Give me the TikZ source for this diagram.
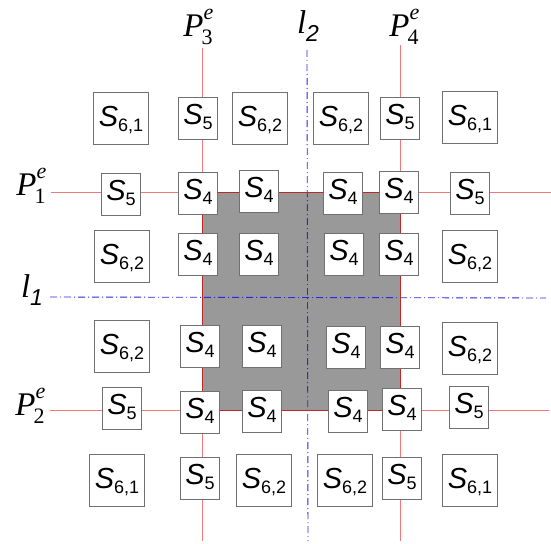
\documentclass[tikz,border=0pt]{standalone}
\usepackage{fontspec}
\setmainfont{Liberation Sans}
\newfontfamily\lblserif{Liberation Serif}
\usepackage{tikz}
\usetikzlibrary{positioning}
\definecolor{PlotRed}{HTML}{F07878}
\definecolor{EdgeRed}{HTML}{C02828}
\definecolor{AxisBlue}{HTML}{2828E6}
\definecolor{BoxGray}{HTML}{707070}
\definecolor{CoreGray}{HTML}{999999}
\newcommand{\Sreg}[1]{\fontsize{29}{29}\selectfont\textit{S}\raisebox{-5pt}{\fontsize{18}{18}\selectfont #1}}
\newcommand{\Pext}[1]{{\lblserif\fontsize{33}{33}\selectfont\textit{P}\rlap{\raisebox{17pt}{\fontsize{22}{22}\selectfont\textit{e}}}\kern-2pt\raisebox{-8pt}{\fontsize{22}{22}\selectfont #1}}}
\newcommand{\laxis}[1]{{\lblserif\fontsize{33}{33}\selectfont\textit{l}}\raisebox{-8pt}{\fontsize{23}{23}\selectfont\textit{#1}}}
\tikzset{
  small/.style={draw=BoxGray,fill=white,line width=0.8pt,inner sep=0pt,
    minimum width=39pt,minimum height=42pt,text height=20pt,text depth=7pt},
  big/.style={draw=BoxGray,fill=white,line width=0.8pt,inner sep=0pt,
    minimum width=55pt,minimum height=52pt,text height=22pt,text depth=5pt},
  ext/.style={draw=PlotRed,line width=0.9pt},
  axis/.style={draw=AxisBlue,line width=0.9pt,dash pattern=on 7pt off 3pt on 1pt off 3pt},
  lbl/.style={inner sep=0pt}
}

\begin{document}
\begin{tikzpicture}[x=1pt,y=-1pt]
  \useasboundingbox (0,0) rectangle (551,543);
  % labels
  \node[lbl] (P3) at (198,27) {\Pext{3}};
  \node[lbl] (P4) at (404,27) {\Pext{4}};
  \node[lbl] (P1) at (31,186) {\Pext{1}};
  \node[lbl] (P2) at (30,406) {\Pext{2}};
  \node[lbl] (l2) at (308,26) {\laxis{2}};
  \node[lbl] (l1) at (32,290) {\laxis{1}};
  % line ends
  \coordinate (p3a) at (202,48);  \coordinate (p3b) at (202,541);
  \coordinate (p4a) at (400,45);  \coordinate (p4b) at (400,541);
  \coordinate (p1a) at (51,192);  \coordinate (p1b) at (551,192);
  \coordinate (p2a) at (50,410);  \coordinate (p2b) at (549,410);
  \coordinate (l2a) at (307,50);  \coordinate (l2b) at (308,541);
  \coordinate (l1a) at (50,297);  \coordinate (l1b) at (546,298);
  % core square
  \fill[CoreGray] (202,192) rectangle (400,410);
  \draw[ext] (p3a) -- (p3b);
  \draw[ext] (p4a) -- (p4b);
  \draw[ext] (p1a) -- (p1b);
  \draw[ext] (p2a) -- (p2b);
  \draw[axis] (l2a) -- (l2b);
  \draw[axis] (l1a) -- (l1b);
  \draw[EdgeRed,line width=1pt] (202,192) rectangle (400,410);
  % row 1
  \node[big] (s61nw) at (121,118) {\Sreg{6,1}};
  \node[small] (s5n1) at (198,118) {\Sreg{5}};
  \node[big] (s62n1) at (260,118) {\Sreg{6,2}};
  \node[big] (s62n2) at (341,118) {\Sreg{6,2}};
  \node[small] (s5n2) at (400,118) {\Sreg{5}};
  \node[big] (s61ne) at (470,117) {\Sreg{6,1}};
  % row 2
  \node[small] (s5w1) at (121,194) {\Sreg{5}};
  \node[small] (s4a) at (198,193) {\Sreg{4}};
  \node[small] (s4b) at (259,191) {\Sreg{4}};
  \node[small] (s4c) at (343,193) {\Sreg{4}};
  \node[small] (s4d) at (399,192) {\Sreg{4}};
  \node[small] (s5e1) at (470,193) {\Sreg{5}};
  % row 3
  \node[big] (s62w1) at (122,256) {\Sreg{6,2}};
  \node[small] (s4e) at (198,254) {\Sreg{4}};
  \node[small] (s4f) at (259,254) {\Sreg{4}};
  \node[small] (s4g) at (344,254) {\Sreg{4}};
  \node[small] (s4h) at (399,254) {\Sreg{4}};
  \node[big] (s62e1) at (470,256) {\Sreg{6,2}};
  % row 4
  \node[big] (s62w2) at (122,346) {\Sreg{6,2}};
  \node[small] (s4i) at (200,346) {\Sreg{4}};
  \node[small] (s4j) at (262,346) {\Sreg{4}};
  \node[small] (s4k) at (346,347) {\Sreg{4}};
  \node[small] (s4l) at (400,347) {\Sreg{4}};
  \node[big] (s62e2) at (470,348) {\Sreg{6,2}};
  % row 5
  \node[small] (s5w2) at (122,408) {\Sreg{5}};
  \node[small] (s4m) at (200,412) {\Sreg{4}};
  \node[small] (s4n) at (262,411) {\Sreg{4}};
  \node[small] (s4o) at (348,411) {\Sreg{4}};
  \node[small] (s4p) at (402,409) {\Sreg{4}};
  \node[small] (s5e2) at (469,407) {\Sreg{5}};
  % row 6
  \node[big] (s61sw) at (117,480) {\Sreg{6,1}};
  \node[small] (s5s1) at (200,478) {\Sreg{5}};
  \node[big] (s62s1) at (264,480) {\Sreg{6,2}};
  \node[big] (s62s2) at (345,480) {\Sreg{6,2}};
  \node[small] (s5s2) at (402,478) {\Sreg{5}};
  \node[big] (s61se) at (470,480) {\Sreg{6,1}};
\end{tikzpicture}
\end{document}
